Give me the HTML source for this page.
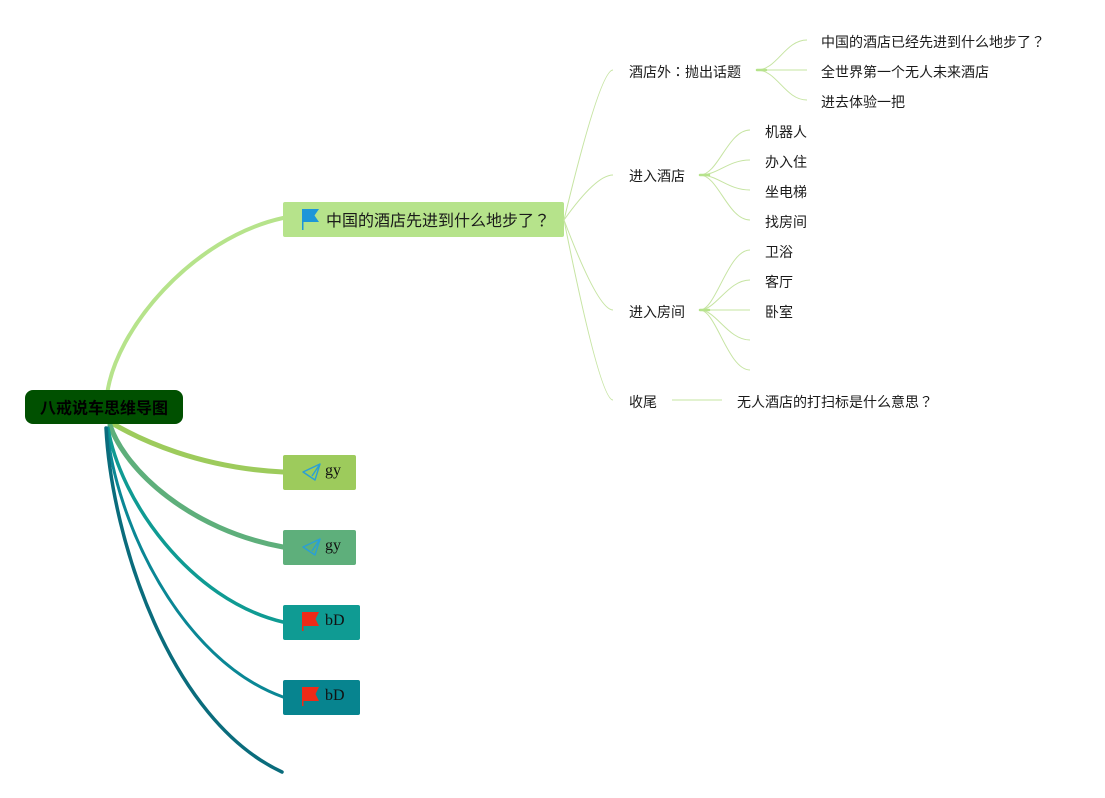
<!DOCTYPE html>
<html>
<head>
<meta charset="utf-8">
<style>
  html, body { margin: 0; padding: 0; background: #ffffff; }
  body { width: 1105px; height: 798px; overflow: hidden; }
  svg { display: block; }
  .cjk { font-family: "Liberation Sans", "Noto Sans CJK SC", sans-serif; }
  .fw { font-family: "Noto Sans CJK TC", "Noto Sans CJK JP", sans-serif; }
  .ser { font-family: "Liberation Serif", serif; }
</style>
</head>
<body>
<svg width="1105" height="798" viewBox="0 0 1105 798" xmlns="http://www.w3.org/2000/svg">
  <rect width="1105" height="798" fill="#ffffff"/>

  <!-- main branches from root -->
  <g fill="none" stroke-linecap="round">
    <path d="M107 395 C115 330, 192 238, 283 218" stroke="#b6e38b" stroke-width="4"/>
    <path d="M110 422 C140 440, 200 468, 283 472" stroke="#9dcb5c" stroke-width="5"/>
    <path d="M110 425 C125 470, 190 530, 283 547" stroke="#5eaf7b" stroke-width="5"/>
    <path d="M108 428 C120 500, 190 600, 283 622" stroke="#0f9b93" stroke-width="3.5"/>
    <path d="M107 428 C115 520, 180 660, 283 697" stroke="#0a8795" stroke-width="3"/>
    <path d="M106 428 C112 540, 170 720, 282 772" stroke="#0a6c7c" stroke-width="3.5"/>
  </g>

  <!-- root -->
  <rect x="25" y="390" width="158" height="34" rx="8" ry="8" fill="#005000"/>
  <text x="104" y="409" class="cjk" font-size="16" font-weight="bold" fill="#000000" text-anchor="middle" dominant-baseline="central">八戒说车思维导图</text>

  <!-- main topic node -->
  <rect x="283" y="202" width="281" height="35" rx="2" fill="#b6e38b"/>
  <path d="M302 209 L319 209 L314.5 215.5 L319 222 L303.5 222 L303.5 230 L302 230 Z" fill="#1d96d8"/>
  <text x="326" y="226" class="cjk" font-size="16" fill="#1a1a1a">中国的酒店先进到什么地步了</text>
  <text x="542" y="226" class="fw" font-size="16" fill="#1a1a1a" text-anchor="middle">？</text>

  <!-- gy nodes -->
  <rect x="283" y="455" width="73" height="35" rx="2" fill="#9dcb5c"/>
  <g fill="none" stroke="#2a9fd6" stroke-width="1.4" stroke-linejoin="round">
    <path d="M303 472 L320 464 L315 480 Z"/>
    <path d="M312 476 L320 464"/>
  </g>
  <text x="325" y="475" class="ser" font-size="16" fill="#111">gy</text>

  <rect x="283" y="530" width="73" height="35" rx="2" fill="#5eaf7b"/>
  <g fill="none" stroke="#2a9fd6" stroke-width="1.4" stroke-linejoin="round">
    <path d="M303 547 L320 539 L315 555 Z"/>
    <path d="M312 551 L320 539"/>
  </g>
  <text x="325" y="550" class="ser" font-size="16" fill="#111">gy</text>

  <!-- bD nodes -->
  <rect x="283" y="605" width="77" height="35" rx="2" fill="#0f9b93"/>
  <path d="M302 612 L319 612 L315.5 619 L319 626 L303.5 626 L303.5 631 L302 631 Z" fill="#ee2a17"/>
  <text x="325" y="625" class="ser" font-size="16" fill="#111">bD</text>

  <rect x="283" y="680" width="77" height="35" rx="2" fill="#07848f"/>
  <path d="M302 687 L319 687 L315.5 694 L319 701 L303.5 701 L303.5 706 L302 706 Z" fill="#ee2a17"/>
  <text x="325" y="700" class="ser" font-size="16" fill="#111">bD</text>

  <!-- lines from main topic to subtopics -->
  <g fill="none" stroke="#c6e4a2" stroke-width="1">
    <path d="M564 220 Q600 70 613 70"/>
    <path d="M564 220 Q596 175 613 175"/>
    <path d="M564 220 Q598 310 613 310"/>
    <path d="M564 220 Q600 400 613 400"/>

    <!-- 酒店外 children -->
    <path d="M757 70 C777 70, 785 40, 807 40"/>
    <path d="M757 70 L807 70"/>
    <path d="M757 70 C777 70, 785 100, 807 100"/>

    <!-- 进入酒店 children -->
    <path d="M700 175 C718 175, 728 130, 750 130"/>
    <path d="M700 175 C718 175, 728 160, 750 160"/>
    <path d="M700 175 C718 175, 728 190, 750 190"/>
    <path d="M700 175 C718 175, 728 220, 750 220"/>

    <!-- 进入房间 children -->
    <path d="M700 310 C716 310, 728 250, 750 250"/>
    <path d="M700 310 C716 310, 728 280, 750 280"/>
    <path d="M700 310 L750 310"/>
    <path d="M700 310 C716 310, 728 340, 750 340"/>
    <path d="M700 310 C716 310, 728 370, 750 370"/>

    <!-- 收尾 child -->
    <path d="M672 400 L722 400"/>
  </g>
  <g stroke="#b6e38b" stroke-width="2.5" stroke-linecap="round">
    <path d="M757 70 L766 70"/>
    <path d="M700 175 L709 175"/>
    <path d="M700 310 L709 310"/>
  </g>

  <!-- subtopic texts -->
  <g class="cjk" font-size="14" fill="#1a1a1a" dominant-baseline="central">
    <text x="629" y="72">酒店外</text>
    <text x="685" y="72">抛出话题</text>
    <text x="629" y="176">进入酒店</text>
    <text x="629" y="312">进入房间</text>
    <text x="629" y="402">收尾</text>

    <text x="821" y="42">中国的酒店已经先进到什么地步了</text>
    <text x="821" y="72">全世界第一个无人未来酒店</text>
    <text x="821" y="102">进去体验一把</text>

    <text x="765" y="132">机器人</text>
    <text x="765" y="162">办入住</text>
    <text x="765" y="192">坐电梯</text>
    <text x="765" y="222">找房间</text>

    <text x="765" y="252">卫浴</text>
    <text x="765" y="282">客厅</text>
    <text x="765" y="312">卧室</text>

    <text x="737" y="402">无人酒店的打扫标是什么意思</text>
  </g>
  <g class="fw" font-size="14" fill="#1a1a1a" dominant-baseline="central" text-anchor="middle">
    <text x="678" y="72">：</text>
    <text x="1038" y="42">？</text>
    <text x="926" y="402">？</text>
  </g>
</svg>
</body>
</html>
